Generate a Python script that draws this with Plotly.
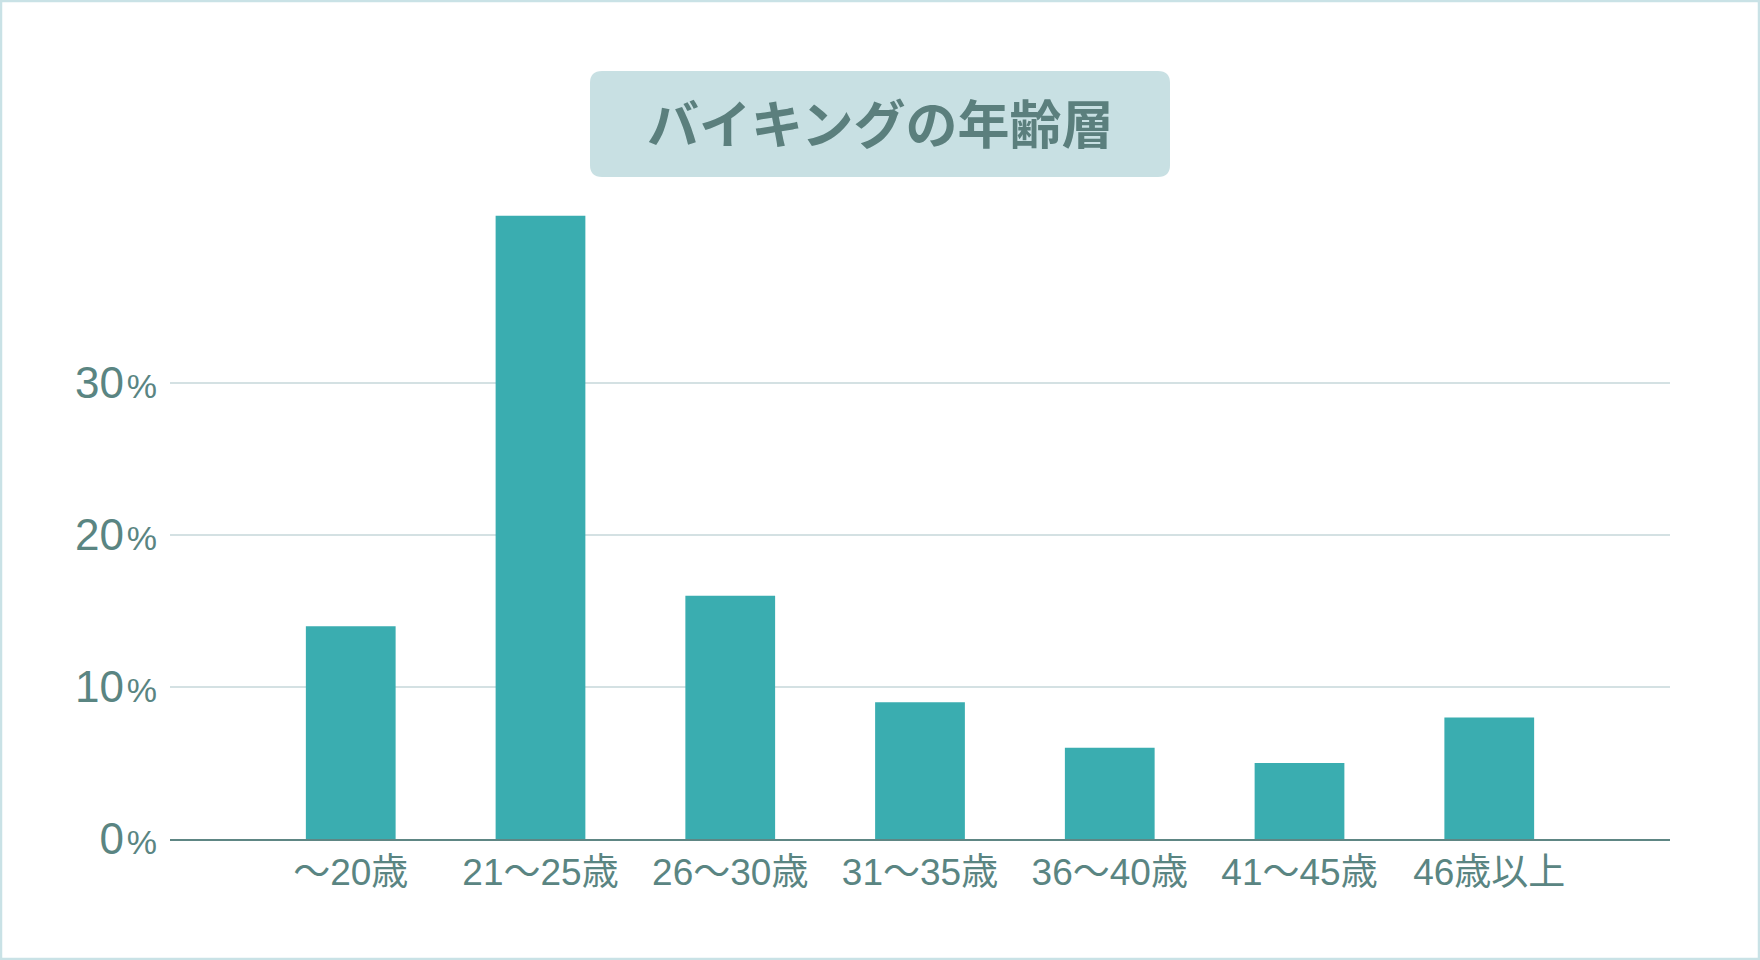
import plotly.graph_objects as go

# ---- data ----
categories = ["～20歳", "21～25歳", "26～30歳", "31～35歳", "36～40歳", "41～45歳", "46歳以上"]
values = [14, 41, 16, 9, 6, 5, 8]
ytick_vals = [0, 10, 20, 30]
ytick_nums = ["0", "10", "20", "30"]
title_text = "バイキングの年齢層"

# ---- style ----
W, H = 1760, 960
L, R, T, B = 170, 90, 199, 121
PW, PH = W - L - R, H - T - B
BAR = "#3aadb0"
TXT = "#5a8582"
GRID = "#d4e1e3"
BOXBG = "#c8e0e3"
FONT = "Liberation Sans, Arial, Noto Sans CJK JP, sans-serif"


def px2paper(x, y):
    return (x - L) / PW, (H - B - y) / PH


ytick_text = [f"{n}<span style='font-size:34px'>\u200a%</span>" for n in ytick_nums]

fig = go.Figure(
    go.Bar(
        x=categories,
        y=values,
        marker=dict(color=BAR, line=dict(width=0)),
        width=0.473,
        hoverinfo="skip",
    )
)

fig.update_layout(
    width=W,
    height=H,
    margin=dict(l=L, r=R, t=T, b=B, pad=0),
    paper_bgcolor="white",
    plot_bgcolor="white",
    showlegend=False,
    font=dict(family=FONT, color=TXT),
    xaxis=dict(
        type="category",
        range=[-0.9525, 6.9525],
        showgrid=False,
        showline=True,
        linecolor="#5e8684",
        linewidth=2,
        ticks="",
        tickfont=dict(size=37, family=FONT, color=TXT),
        zeroline=False,
    ),
    yaxis=dict(
        range=[0, PH / 15.2],
        tickvals=ytick_vals,
        ticktext=ytick_text,
        showgrid=True,
        gridcolor=GRID,
        gridwidth=1.5,
        zeroline=False,
        showline=False,
        ticks="",
        ticklabelstandoff=12,
        tickfont=dict(size=44, family=FONT, color=TXT),
    ),
)

# rounded title box
bx0, by0, bx1, by1, rad = 590, 71, 1170, 177, 12
rx, ry = rad / PW, rad / PH
x0, y0 = px2paper(bx0, by0)
x1, y1 = px2paper(bx1, by1)  # y0 top (larger), y1 bottom
path = (
    f"M {x0 + rx} {y0} L {x1 - rx} {y0} Q {x1} {y0} {x1} {y0 - ry} "
    f"L {x1} {y1 + ry} Q {x1} {y1} {x1 - rx} {y1} "
    f"L {x0 + rx} {y1} Q {x0} {y1} {x0} {y1 + ry} "
    f"L {x0} {y0 - ry} Q {x0} {y0} {x0 + rx} {y0} Z"
)
fig.add_shape(type="path", xref="paper", yref="paper", path=path,
              fillcolor=BOXBG, line=dict(width=0), layer="below")

cx, cy = px2paper((bx0 + bx1) / 2, (by0 + by1) / 2 - 2)
fig.add_annotation(
    x=cx, y=cy, xref="paper", yref="paper", text=f"<b>{title_text}</b>",
    showarrow=False, xanchor="center", yanchor="middle",
    font=dict(size=52, family="Noto Sans CJK JP", color="#5b7f7d"),
)

# page border
fx0, fy0 = px2paper(1, 1)
fx1, fy1 = px2paper(W - 1, H - 1)
fig.add_shape(type="rect", xref="paper", yref="paper",
              x0=fx0, y0=fy0, x1=fx1, y1=fy1,
              line=dict(color="#c9e2e6", width=2.5), fillcolor="rgba(0,0,0,0)")

fig.write_html(
    "out.html",
    config={"displayModeBar": False},
    post_script="document.body.style.margin='0';document.body.style.overflow='hidden';",
)
